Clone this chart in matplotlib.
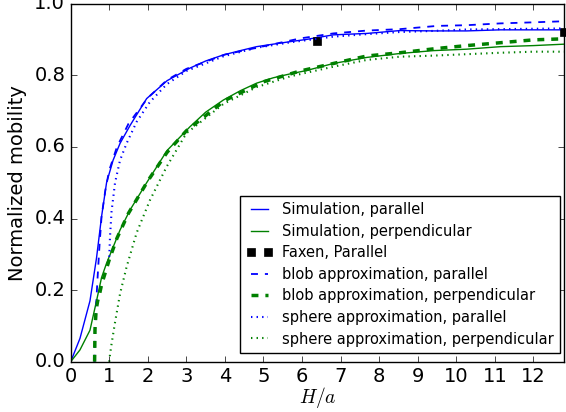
import numpy as np
import matplotlib
matplotlib.use('Agg')
import matplotlib.pyplot as plt

# simulation data
H_sim = [0, 0.24, 0.5, 0.67, 0.8, 0.93, 1.1, 1.28, 1.54, 1.97, 2.5, 3.09, 3.5, 3.96, 4.4,
         4.82, 5.25, 5.69, 6.1, 6.81, 7.68, 8.54, 9.41, 10.27, 11.14, 12.0, 12.8]
sim_par = [0, 0.065, 0.17, 0.29, 0.405, 0.50, 0.563, 0.61, 0.66, 0.735, 0.785, 0.82, 0.84,
           0.857, 0.869, 0.88, 0.887, 0.894, 0.90, 0.913, 0.917, 0.925, 0.924, 0.924, 0.927,
           0.927, 0.927]
sim_perp = [0, 0.033, 0.088, 0.17, 0.235, 0.275, 0.32, 0.368, 0.424, 0.50, 0.59, 0.656, 0.697,
            0.731, 0.757, 0.778, 0.793, 0.804, 0.813, 0.833, 0.85, 0.861, 0.869, 0.873, 0.88,
            0.883, 0.887]

# faxen points
H_fax = [6.4, 12.8]
fax_par = [0.897, 0.92]

# blob approximation
H_blob = [0.62, 0.63, 0.66, 0.7, 0.75, 0.8, 0.9, 1.0, 1.2, 1.5, 2.0, 2.5, 3.0, 4.0, 5.0,
          5.95, 6.81, 7.68, 8.54, 9.5, 10.27, 11.14, 12.0, 12.8]
blob_par = [0, 0.09, 0.16, 0.24, 0.33, 0.405, 0.48, 0.535, 0.60, 0.665, 0.737, 0.787, 0.818,
            0.858, 0.881, 0.903, 0.917, 0.925, 0.929, 0.938, 0.94, 0.945, 0.948, 0.951]
blob_perp = [0, 0.09, 0.145, 0.17, 0.19, 0.215, 0.25, 0.285, 0.345, 0.415, 0.505, 0.585, 0.645,
             0.73, 0.782, 0.812, 0.833, 0.854, 0.863, 0.875, 0.883, 0.891, 0.899, 0.902]

# sphere approximation
H_sph = [1.0, 1.02, 1.06, 1.15, 1.28, 1.45, 1.71, 2.05, 2.49, 3.0, 3.96, 4.82, 5.69, 6.81,
         7.68, 8.54, 9.41, 10.27, 11.14, 12.0, 12.8]
sph_par = [0.293, 0.35, 0.42, 0.50, 0.563, 0.61, 0.67, 0.725, 0.775, 0.812, 0.853, 0.877,
           0.892, 0.908, 0.915, 0.921, 0.924, 0.928, 0.929, 0.930, 0.931]
sph_perp = [0, 0.02, 0.05, 0.11, 0.19, 0.265, 0.36, 0.45, 0.545, 0.638, 0.72, 0.767, 0.797,
            0.824, 0.843, 0.852, 0.855, 0.859, 0.863, 0.866, 0.866]

xticks = list(range(0, 13))
yticks = [0.0, 0.2, 0.4, 0.6, 0.8, 1.0]

plt.style.use('classic')
plt.rcParams['font.family'] = 'DejaVu Sans'

fig = plt.figure(figsize=(5.66, 4.12), dpi=100, facecolor='white')
ax = fig.add_axes([0.1249, 0.122, 0.872, 0.869])

ax.plot(H_sim, sim_par, 'b-', lw=1.0, label='Simulation, parallel')
ax.plot(H_sim, sim_perp, 'g-', lw=1.0, label='Simulation, perpendicular')
ax.plot(H_fax, fax_par, 'ks', ms=6, ls='none', clip_on=False, label='Faxen, Parallel')
ax.plot(H_blob, blob_par, 'b--', lw=1.3, dashes=(5, 5), label='blob approximation, parallel')
ax.plot(H_blob, blob_perp, 'g--', lw=2.5, dashes=(5, 5), label='blob approximation, perpendicular')
ax.plot(H_sph, sph_par, 'b:', lw=1.5, label='sphere approximation, parallel')
ax.plot(H_sph, sph_perp, 'g:', lw=1.5, label='sphere approximation, perpendicular')

ax.set_xlim(0, 12.8)
ax.set_ylim(0, 1.0)
ax.set_xticks(xticks)
ax.set_yticks(yticks)
ax.tick_params(labelsize=14)
ax.set_xlabel('$H/a$', fontsize=14, labelpad=-1)
ax.set_ylabel('Normalized mobility', fontsize=14)

leg = ax.legend(loc='lower right', bbox_to_anchor=(0.9915, 0.024), borderaxespad=0,
                numpoints=2, fontsize=10.5, handlelength=1.75, handletextpad=0.65,
                borderpad=0.45, labelspacing=0.45)
leg.get_frame().set_edgecolor('black')

fig.savefig('out.png', dpi=100, facecolor='white')
